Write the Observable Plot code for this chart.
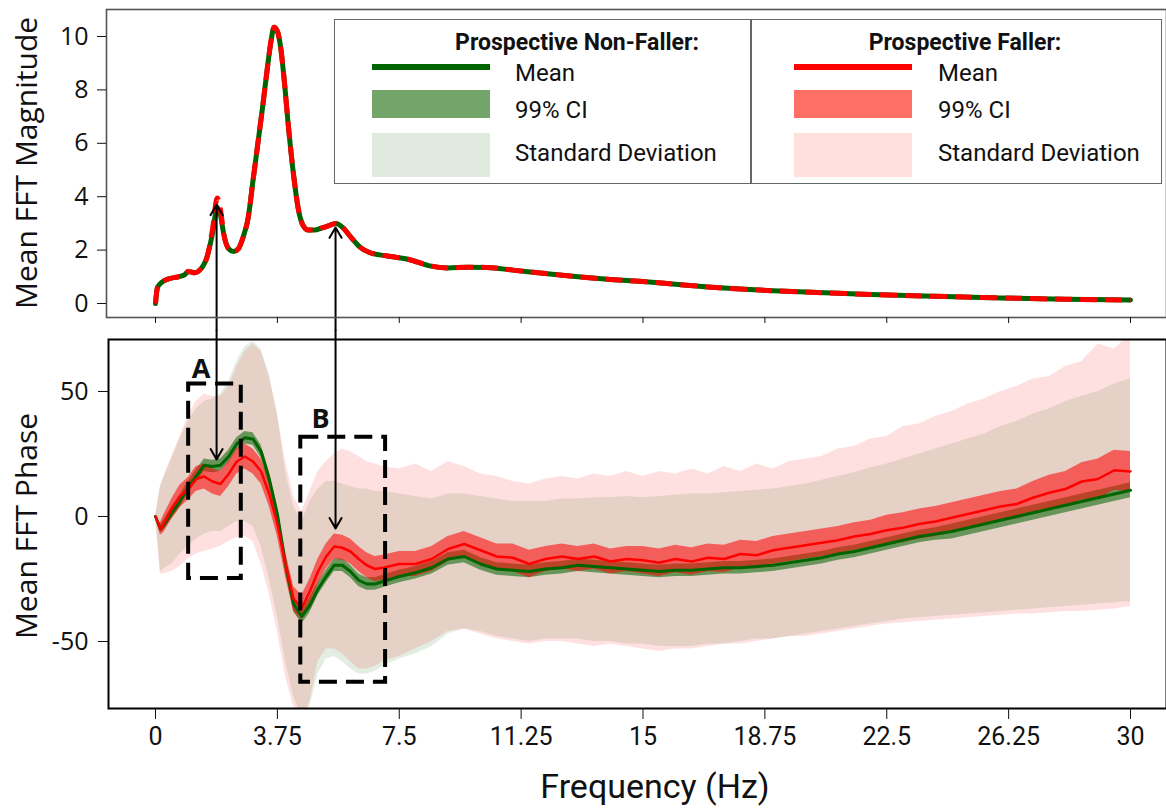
<!DOCTYPE html>
<html>
<head>
<meta charset="utf-8">
<script src="https://cdn.jsdelivr.net/npm/d3@7"></script>
<script src="https://cdn.jsdelivr.net/npm/@observablehq/plot@0.6"></script>
<style>
  html, body { margin: 0; padding: 0; background: #fff; }
  #wrap { position: relative; width: 1166px; height: 810px; overflow: hidden; background: #fff; }
  #wrap svg { max-width: none !important; }
  #top { position: absolute; left: 0; top: 0; }
  #bot { position: absolute; left: 0; top: 330px; }
  .ytitle { position: absolute; font-family: "Open Sans", sans-serif; font-size: 30px; color: #111;
            transform: translate(-50%, -50%) rotate(-90deg); white-space: nowrap; line-height: 1; }
  .xtitle { position: absolute; font-family: Roboto, sans-serif; font-size: 34px; color: #111;
            transform: translate(-50%, -50%); white-space: nowrap; line-height: 1; }
  #legend { position: absolute; left: 334px; top: 19px; width: 828px; height: 165px; box-sizing: border-box;
            border: 1.5px solid #666; background: #fff; font-family: Roboto, sans-serif; color: #111; }
  #legend .div { position: absolute; left: 415px; top: 0; width: 1.5px; height: 100%; background: #666; }
  #legend .head { position: absolute; font-weight: bold; font-size: 23px; transform: translate(-50%, -50%); white-space: nowrap; line-height: 1; }
  #legend .lab { position: absolute; font-size: 24px; transform: translateY(-50%); white-space: nowrap; line-height: 1; }
  #legend .sw { position: absolute; width: 118px; }
</style>
</head>
<body>
<div id="wrap">
  <div id="top"></div>
  <div id="bot"></div>
  <div class="ytitle" style="left:26px; top:163px;">Mean FFT Magnitude</div>
  <div class="ytitle" style="left:26px; top:526px;">Mean FFT Phase</div>
  <div class="xtitle" style="left:655px; top:786px;">Frequency (Hz)</div>
  <div id="legend"></div>
</div>
<script>
// ---------------- data ----------------
const freqTicks = [0, 3.75, 7.5, 11.25, 15, 18.75, 22.5, 26.25, 30];
const freqTickLabels = ["0", "3.75", "7.5", "11.25", "15", "18.75", "22.5", "26.25", "30"];
const magTicks = [0, 2, 4, 6, 8, 10];
const phaseTicks = [-50, 0, 50];

// Top panel: mean FFT magnitude
const magFreq = [0, 0.06, 0.2, 0.4, 0.7, 0.9, 1.0, 1.1, 1.2, 1.4,
  1.6, 1.75, 1.9, 2.0, 2.1, 2.25, 2.4, 2.55, 2.7, 2.85,
  3.0, 3.15, 3.3, 3.45, 3.55, 3.65, 3.75, 3.85, 3.95, 4.1,
  4.25, 4.4, 4.55, 4.7, 4.9, 5.1, 5.3, 5.55, 5.8, 6.0,
  6.3, 6.6, 6.9, 7.3, 7.8, 8.4, 9.0, 9.6, 10.2, 11.0,
  12, 13, 14, 15, 16, 17, 18, 19, 20, 22,
  24, 26, 28, 30];
const magNonFaller = [0, 0.6, 0.8, 0.92, 1.0, 1.08, 1.2, 1.18, 1.15, 1.3,
  1.8, 2.6, 3.6, 3.3, 2.6, 2.05, 1.95, 2.05, 2.5, 3.2,
  4.6, 6.0, 7.4, 8.9, 9.8, 10.35, 10.2, 9.6, 8.5, 6.5,
  4.8, 3.5, 2.9, 2.75, 2.75, 2.82, 2.9, 3.0, 2.8, 2.5,
  2.1, 1.9, 1.82, 1.75, 1.65, 1.42, 1.33, 1.36, 1.35, 1.25,
  1.12, 1.0, 0.9, 0.82, 0.72, 0.62, 0.54, 0.48, 0.43, 0.34,
  0.27, 0.21, 0.16, 0.13];
const magFaller = [0, 0.6, 0.8, 0.92, 1.0, 1.08, 1.2, 1.18, 1.15, 1.3,
  1.8, 2.75, 3.95, 3.5, 2.6, 2.05, 1.95, 2.05, 2.5, 3.2,
  4.6, 6.0, 7.4, 8.9, 9.8, 10.35, 10.2, 9.6, 8.5, 6.5,
  4.8, 3.5, 2.9, 2.75, 2.75, 2.82, 2.9, 3.0, 2.8, 2.5,
  2.1, 1.9, 1.82, 1.75, 1.65, 1.42, 1.33, 1.36, 1.35, 1.25,
  1.12, 1.0, 0.9, 0.82, 0.72, 0.62, 0.54, 0.48, 0.43, 0.34,
  0.27, 0.21, 0.16, 0.13];

// Bottom panel: mean FFT phase
const phaseFreq = [0, 0.15, 0.25,
  0.5, 0.75, 1, 1.25, 1.5, 1.75, 2, 2.25, 2.5, 2.75,
  3, 3.25, 3.5, 3.75, 4, 4.25, 4.5, 4.75, 5, 5.25,
  5.5, 5.75, 6, 6.25, 6.5, 6.75, 7,
  7.5, 8, 8.5, 9, 9.5, 10, 10.5, 11, 11.5, 12,
  12.5, 13, 13.5, 14, 14.5, 15, 15.5, 16, 16.5, 17,
  17.5, 18, 18.5, 19, 19.5, 20, 20.5, 21, 21.5, 22,
  22.5, 23, 23.5, 24, 24.5, 25, 25.5, 26, 26.5, 27,
  27.5, 28, 28.5, 29, 29.5, 30];
const nonFallerMean = [0, -5, -3.5,
  1.5, 6, 11.5, 16, 20.5, 20, 20.5, 24, 29, 31.5,
  31, 26, 15, 1, -19, -35, -40, -35.5, -29, -24,
  -19.5, -19.5, -22, -25.5, -27, -27, -26,
  -24, -22.5, -20.5, -17, -16, -19, -21, -21.5, -22, -21,
  -20.5, -19.5, -20, -20.5, -21, -21.5, -22, -21.5, -21.5, -21,
  -20.5, -20.5, -20, -19.5, -18.5, -17.5, -16.5, -15, -14, -12.5,
  -11, -9.5, -8, -7, -6, -4.5, -3, -1.5, 0, 1.5,
  3, 4.5, 6, 7.5, 9, 10.5];
const fallerMean = [0, -5, -3,
  3, 8, 11, 15, 16, 14, 13, 17, 22, 24,
  22, 18, 9, -3, -19, -33, -36.5, -30, -22, -16,
  -12, -12.5, -14, -17, -19.5, -21, -20.5,
  -19, -19, -17, -13, -11, -13.5, -16, -16.5, -19, -17,
  -16, -17, -16, -18, -17, -17.5, -18.5, -17, -18, -16.5,
  -17, -15, -15.5, -13.5, -12.5, -11.5, -10.5, -9.5, -8, -7,
  -5.5, -4.5, -3, -2, -0.5, 1, 2.5, 4, 5, 7.5,
  9.5, 11, 14, 15, 18.5, 18];
// 99% CI half widths
const nonFallerCI = [0, 1.5, 2,
  2.5, 2.5, 2.5, 2.5, 2.5, 2.5, 2.5, 2.5, 2.5, 2.5,
  2.5, 2.5, 3, 3, 3, 3, 3, 3, 2.5, 2.5,
  2.5, 2.5, 2.5, 2.5, 2.5, 2.5, 2.5,
  2.5, 2.5, 2.5, 2.5, 2.5, 2.5, 2.5, 2.5, 2.5, 2.5,
  2.5, 2.5, 2.5, 2.5, 2.5, 2.5, 2.5, 2.5, 2.5, 2.5,
  2.5, 2.5, 2.5, 2.5, 2.5, 2.5, 2.5, 2.5, 2.5, 2.5,
  2.5, 2.5, 2.5, 2.5, 3, 3, 3, 3, 3, 3,
  3, 3, 3, 3, 3, 3];
const fallerCI = [0, 2.5, 3.5,
  4, 4.5, 4.5, 5, 5, 5, 5, 5, 5, 5,
  5, 5, 5, 5, 5, 5, 5, 5, 5, 5,
  5, 5, 5, 5, 5, 5, 5,
  5, 5, 5, 5, 5, 5, 5, 5.5, 5.5, 5,
  5, 5, 5, 5, 5, 5.5, 5.5, 5.5, 5.5, 5.5,
  5.5, 5.5, 5.5, 5.5, 5.5, 5.5, 5.5, 5.5, 5.5, 5.5,
  6, 6, 6, 6, 6, 6, 6, 6, 6, 6.5,
  7, 7, 7.5, 8, 8, 8];
// standard deviation band edges
const nonFallerSdHi = [0, 12, 15,
  23, 31, 38, 43, 46, 47, 49, 54, 62, 68,
  70, 67, 57, 41, 18, 4, -2, 6, 11, 14,
  14, 13, 12, 11, 11, 10, 10,
  9, 8, 7, 9, 9, 8, 7, 6, 6, 6,
  7, 7, 7.5, 7.5, 8, 7.5, 8, 8.5, 9, 9,
  9.5, 10, 10.5, 11, 12, 13, 14.5, 16, 17.5, 19.5,
  21, 23, 25, 27, 29, 31, 33, 36, 38, 41,
  43, 46, 48, 50, 53, 55];
const nonFallerSdLo = [0, -22, -21,
  -19, -15, -12, -9, -7, -6, -6, -4, -2, -2,
  -4, -12, -25, -40, -58, -72, -80, -76, -63, -57,
  -56, -58, -61, -63, -63, -62, -60,
  -57, -55, -52, -47, -45, -46, -48, -49, -50, -49,
  -49, -49, -50, -50, -51, -51, -52, -52, -52, -51,
  -51, -50, -49, -49, -48, -47, -46, -45, -44, -43,
  -42, -41, -40.5, -40, -39.5, -39, -38.5, -38, -37.5, -37,
  -36.5, -36, -35.5, -35, -34.5, -34];
const fallerSdHi = [0, 12, 16,
  24, 32, 40, 46, 49, 48, 48, 52, 60, 66,
  69, 66, 56, 41, 22, 8, 2, 10, 18, 22,
  25, 27, 26, 24, 22, 21, 20,
  19, 21, 18, 22, 20, 17, 16, 14, 13, 15,
  16, 15, 17, 16, 18, 16, 18, 17, 19, 17,
  20, 18, 21, 19, 22, 23, 24, 27, 28, 31,
  32, 36, 37, 40, 42, 45, 47, 50, 52, 55,
  56, 60, 62, 69, 67, 73];
const fallerSdLo = [0, -23, -23,
  -22, -20, -17, -15, -14, -13, -12, -10, -8.5, -8,
  -10, -19, -31, -46, -64, -76, -82, -74, -58, -53,
  -53, -55, -58, -61, -61, -60, -58,
  -56, -53, -50, -46, -45, -47, -49, -50, -51, -50,
  -50, -51, -52, -51, -52, -53, -54, -53, -53, -52,
  -51, -51, -50, -49, -48, -48, -47, -46, -45, -44,
  -43, -42.5, -42, -41.5, -41, -40.5, -40, -39.5, -39, -39,
  -38.5, -38, -38, -37.5, -37, -36];

// annotations: arrows linking magnitude peaks to phase features
const arrowFreq = [1.88, 5.54];
const arrowMag = [3.7, 2.85];
const arrowPhase = [22.8, -4.8];
const arrowMagStart = -1.0;   // magnitude value at the lower edge of the top panel's svg
const arrowPhaseStart = 74.4; // phase value at the upper edge of the bottom panel's svg
const boxNames = ["A", "B"];
const boxFreqStart = [1.02, 4.47];
const boxFreqEnd = [2.64, 7.08];
const boxPhaseTop = [53, 31.7];
const boxPhaseBottom = [-24.8, -66.3];
const boxLabelFreq = [1.4, 5.08];
const boxLabelPhase = [59, 39];

// ---------------- tables ----------------
const magData = magFreq.map((f, i) => ({f, nf: magNonFaller[i], fa: magFaller[i]}));
const phaseData = phaseFreq.map((f, i) => ({
  f, g: nonFallerMean[i], r: fallerMean[i], gci: nonFallerCI[i], rci: fallerCI[i],
  gLo: nonFallerSdLo[i], gHi: nonFallerSdHi[i], rLo: fallerSdLo[i], rHi: fallerSdHi[i]
}));
const arrows = arrowFreq.map((f, i) => ({f, mag: arrowMag[i], phase: arrowPhase[i], mag0: arrowMagStart, ph0: arrowPhaseStart}));
const boxes = boxNames.map((name, i) => ({name, f1: boxFreqStart[i], f2: boxFreqEnd[i], p1: boxPhaseBottom[i], p2: boxPhaseTop[i], lf: boxLabelFreq[i], lp: boxLabelPhase[i]}));

const GREEN = "#006400", RED = "#ff0000";
const xScale = {domain: [0, 30], range: [155, 1130]};
const tickFmt = d => freqTickLabels[freqTicks.indexOf(d)];

// ---------------- top panel ----------------
const topPlot = Plot.plot({
  width: 1170, height: 330,
  marginLeft: 106, marginRight: 4, marginTop: 9, marginBottom: 13,
  x: xScale,
  y: {domain: [0, 10], range: [303, 36]},
  style: {background: "transparent", overflow: "visible", color: "#111"},
  marks: [
    Plot.line(magData, {x: "f", y: "nf", stroke: GREEN, strokeWidth: 5, curve: "monotone-x"}),
    Plot.line(magData, {x: "f", y: "fa", stroke: RED, strokeWidth: 5, strokeDasharray: "17,8", strokeLinecap: "butt", curve: "monotone-x"}),
    Plot.arrow(arrows, {x: "f", y1: "mag0", y2: "mag", stroke: "black", strokeWidth: 2, headLength: 9}),
    Plot.frame({stroke: "#555", strokeWidth: 1.6}),
    Plot.axisY({ticks: magTicks, tickSize: 9, tickPadding: 9, fontSize: 25, fontFamily: "Open Sans", tickFormat: d => String(d), label: null}),
    Plot.axisX({ticks: freqTicks, tickSize: 6, tickFormat: () => "", label: null})
  ]
});
document.getElementById("top").appendChild(topPlot);

// ---------------- bottom panel ----------------
const botPlot = Plot.plot({
  width: 1170, height: 480,
  marginLeft: 108, marginRight: 4, marginTop: 9, marginBottom: 102,
  x: xScale,
  y: {domain: [-50, 50], range: [311, 61]},
  style: {background: "transparent", overflow: "visible", color: "#111"},
  marks: [
    Plot.areaY(phaseData, {x: "f", y1: "gLo", y2: "gHi", fill: GREEN, fillOpacity: 0.11, clip: true}),
    Plot.areaY(phaseData, {x: "f", y1: "rLo", y2: "rHi", fill: RED, fillOpacity: 0.12, clip: true}),
    Plot.areaY(phaseData, {x: "f", y1: d => d.g - d.gci, y2: d => d.g + d.gci, fill: GREEN, fillOpacity: 0.55, clip: true}),
    Plot.areaY(phaseData, {x: "f", y1: d => d.r - d.rci, y2: d => d.r + d.rci, fill: RED, fillOpacity: 0.55, clip: true}),
    Plot.line(phaseData, {x: "f", y: "g", stroke: GREEN, strokeWidth: 3, clip: true}),
    Plot.line(phaseData, {x: "f", y: "r", stroke: RED, strokeWidth: 2.5, clip: true}),
    Plot.rect(boxes, {x1: "f1", x2: "f2", y1: "p1", y2: "p2", fill: "none", stroke: "black", strokeWidth: 4, strokeDasharray: "18,9"}),
    Plot.text(boxes, {x: "lf", y: "lp", text: "name", fontSize: 27, fontWeight: "bold", fontFamily: "Open Sans", fill: "#111"}),
    Plot.arrow(arrows, {x: "f", y1: "ph0", y2: "phase", stroke: "black", strokeWidth: 2, headLength: 9}),
    Plot.frame({stroke: "black", strokeWidth: 2}),
    Plot.axisY({ticks: phaseTicks, tickSize: 10, tickPadding: 10, fontSize: 25, fontFamily: "Open Sans", tickFormat: d => String(d), label: null}),
    Plot.axisX({ticks: freqTicks, tickSize: 11, tickPadding: 8, fontSize: 25, fontFamily: "Roboto", tickFormat: tickFmt, label: null})
  ]
});
document.getElementById("bot").appendChild(botPlot);

// ---------------- legend ----------------
const legendGroups = [
  {title: "Prospective Non-Faller:", cx: 242, left: 37, text: 180, line: GREEN, ci: "#73a46a", sd: "#e0eadf"},
  {title: "Prospective Faller:", cx: 630, left: 459, text: 603, line: RED, ci: "#ff6f64", sd: "#ffe0dd"}
];
const legendLabels = ["Mean", "99% CI", "Standard Deviation"];
const leg = document.getElementById("legend");
let html = '<div class="div"></div>';
for (const g of legendGroups) {
  html += `<div class="head" style="left:${g.cx}px; top:22px;">${g.title}</div>`;
  html += `<div class="sw" style="left:${g.left}px; top:44px; height:6px; background:${g.line};"></div>`;
  html += `<div class="sw" style="left:${g.left}px; top:70px; height:28px; background:${g.ci};"></div>`;
  html += `<div class="sw" style="left:${g.left}px; top:113px; height:44px; background:${g.sd};"></div>`;
  html += `<div class="lab" style="left:${g.text}px; top:53px;">${legendLabels[0]}</div>`;
  html += `<div class="lab" style="left:${g.text}px; top:90px;">${legendLabels[1]}</div>`;
  html += `<div class="lab" style="left:${g.text}px; top:133px;">${legendLabels[2]}</div>`;
}
leg.innerHTML = html;
</script>
</body>
</html>
